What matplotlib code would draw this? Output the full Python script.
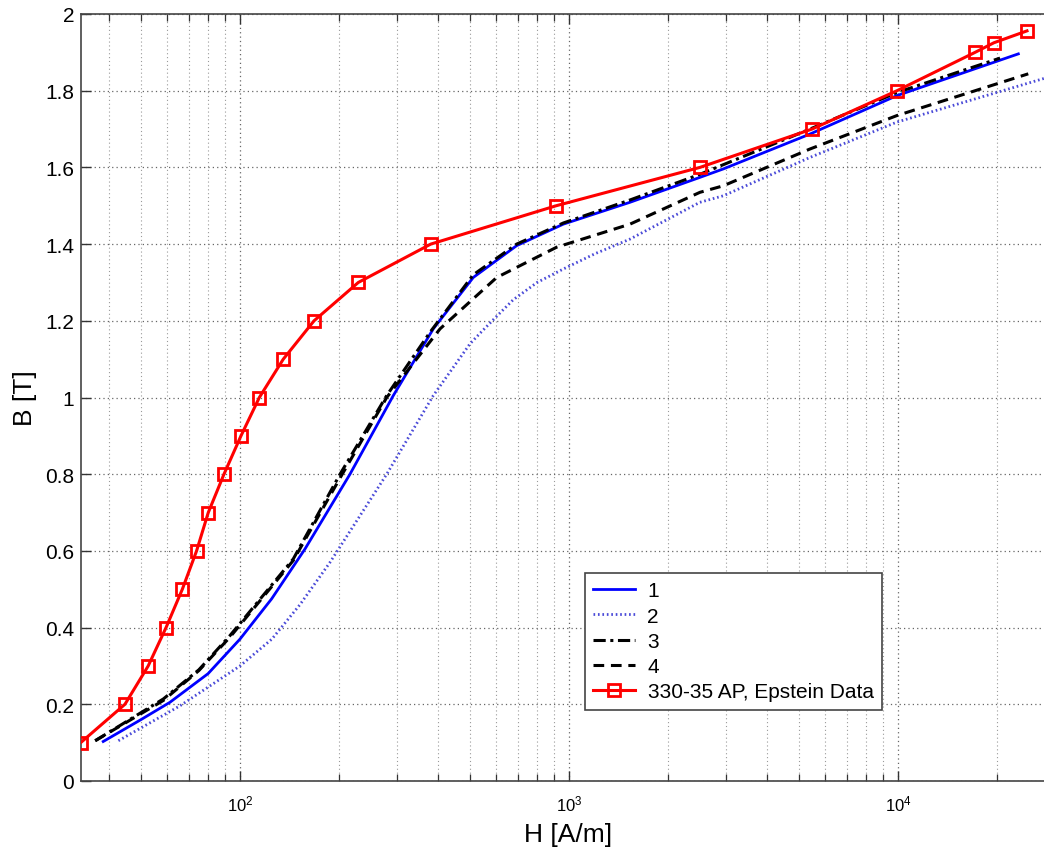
import numpy as np
import matplotlib
matplotlib.use("Agg")
import matplotlib.pyplot as plt
from matplotlib.ticker import LogLocator, FixedLocator, FuncFormatter, NullFormatter

plt.rcParams['font.family'] = ['Liberation Sans', 'DejaVu Sans']
plt.rcParams['mathtext.fontset'] = 'custom'
plt.rcParams['mathtext.rm'] = 'Liberation Sans'
plt.rcParams['mathtext.default'] = 'regular'

# ---------------- data ----------------
h1 = [38.4, 50, 61.2, 80, 100, 124.8, 157.6, 215.9, 292.4, 386.8, 511.7, 693.4, 960.9,
      1532, 2500, 2944, 5401, 9911, 23210]
b1 = [0.103, 0.16, 0.205, 0.28, 0.37, 0.475, 0.605, 0.80, 1.005, 1.179, 1.313, 1.396, 1.452,
      1.509, 1.574, 1.596, 1.687, 1.787, 1.896]

h2 = [42.7, 65.7, 100, 125, 152.2, 187.7, 279.2, 386.8, 500, 540, 600, 677, 800, 960.9, 1200,
      1532, 2500, 2944, 5401, 9911, 27790]
b2 = [0.105, 0.196, 0.30, 0.37, 0.46, 0.570, 0.80, 1.005, 1.14, 1.17, 1.21, 1.255, 1.30, 1.335,
      1.375, 1.413, 1.509, 1.526, 1.626, 1.718, 1.832]

h3 = [36.3, 58.5, 75, 93.2, 145.2, 201.4, 279.2, 378, 511.7, 693.4, 960.9, 1532, 2500,
      5401, 9911, 20420]
b3 = [0.105, 0.214, 0.29, 0.379, 0.579, 0.80, 1.005, 1.17, 1.32, 1.40, 1.455, 1.515, 1.582,
      1.70, 1.795, 1.885]

h4 = [36.3, 58.5, 75, 93.2, 145.2, 201.4, 279.2, 405.5, 603, 917.6, 1532, 2500, 2944,
      5401, 9911, 24880]
b4 = [0.105, 0.21, 0.288, 0.375, 0.575, 0.79, 1.0, 1.179, 1.313, 1.392, 1.452, 1.535, 1.552,
      1.648, 1.735, 1.844]

h_ep = [32.8, 44.7, 52.6, 59.6, 66.8, 73.8, 80.1, 89.4, 100.7, 114.5, 135.4, 167.9,
        228.9, 380, 914, 2500, 5480, 9930, 17150, 19560, 24660]
b_ep = [0.1, 0.2, 0.3, 0.4, 0.5, 0.6, 0.7, 0.8, 0.9, 1.0, 1.1, 1.2,
        1.3, 1.4, 1.5, 1.6, 1.7, 1.8, 1.9, 1.925, 1.956]

labels = ['1', '2', '3', '4', '330-35 AP, Epstein Data']
y_ticks = [0, 0.2, 0.4, 0.6, 0.8, 1.0, 1.2, 1.4, 1.6, 1.8, 2.0]

# ---------------- figure ----------------
W, H = 1044, 854
fig = plt.figure(figsize=(W / 100, H / 100), dpi=100)
ax = fig.add_axes([81 / W, (H - 782) / H, (1055 - 81) / W, (782 - 15) / H])

ax.plot(h1, b1, '-', color='#0000ff', lw=2.0, label=labels[0], zorder=4)
ax.plot(h2, b2, color='#4a4ad8', lw=2.0, linestyle=(0, (0.6, 1.0)), label=labels[1], zorder=3)
ax.plot(h3, b3, color='black', lw=2.2, linestyle=(0, (4, 1.5, 1, 1.5)), label=labels[2], zorder=5)
ax.plot(h4, b4, color='black', lw=2.2, linestyle=(0, (3.5, 2.2)), label=labels[3], zorder=5)
ax.plot(h_ep, b_ep, '-', color='#ff0000', lw=2.2, marker='s', markersize=9,
        markerfacecolor='none', markeredgecolor='#ff0000', markeredgewidth=2.0,
        label=labels[4], zorder=6)

ax.set_xscale('log')
ax.set_xlim(32.87, 30000)
ax.set_ylim(0, 2)

ax.xaxis.set_major_locator(LogLocator(base=10, numticks=10))
ax.xaxis.set_minor_locator(LogLocator(base=10, subs=np.arange(2, 10), numticks=20))
ax.xaxis.set_minor_formatter(NullFormatter())
ax.yaxis.set_major_locator(FixedLocator(y_ticks))
ax.yaxis.set_major_formatter(FuncFormatter(lambda v, p: f"{v:g}"))

ax.tick_params(axis='both', which='both', direction='in', top=True, right=False,
               color='#333333')
ax.tick_params(axis='both', which='major', length=7, width=1)
ax.tick_params(axis='x', which='minor', length=5, width=0.9)
ax.tick_params(axis='y', which='major', labelsize=15, pad=5)
ax.tick_params(axis='x', which='major', labelsize=12, pad=9)

for s in ['left', 'bottom', 'top']:
    ax.spines[s].set_color('#444444')
    ax.spines[s].set_linewidth(1.2)
ax.spines['right'].set_visible(False)

ax.grid(True, which='major', axis='both', linestyle=(0, (1, 2.5)), color='#666666', lw=0.9)
ax.grid(True, which='minor', axis='x', linestyle=(0, (1, 2.5)), color='#9a9a9a', lw=0.8)
ax.set_axisbelow(True)

ax.set_xlabel('H [A/m]', fontsize=19, labelpad=6)
ax.set_ylabel('B [T]', fontsize=19, labelpad=6)

leg = ax.legend(loc='upper left', bbox_to_anchor=(585 / W, 1 - 574 / H),
                bbox_transform=fig.transFigure, fontsize=15, frameon=True,
                fancybox=False, framealpha=1, edgecolor='#444444',
                handlelength=2.0, handletextpad=0.6, labelspacing=0.3,
                borderpad=0.4, borderaxespad=0)
leg.get_frame().set_linewidth(1.2)

fig.savefig('out.png', dpi=100)
